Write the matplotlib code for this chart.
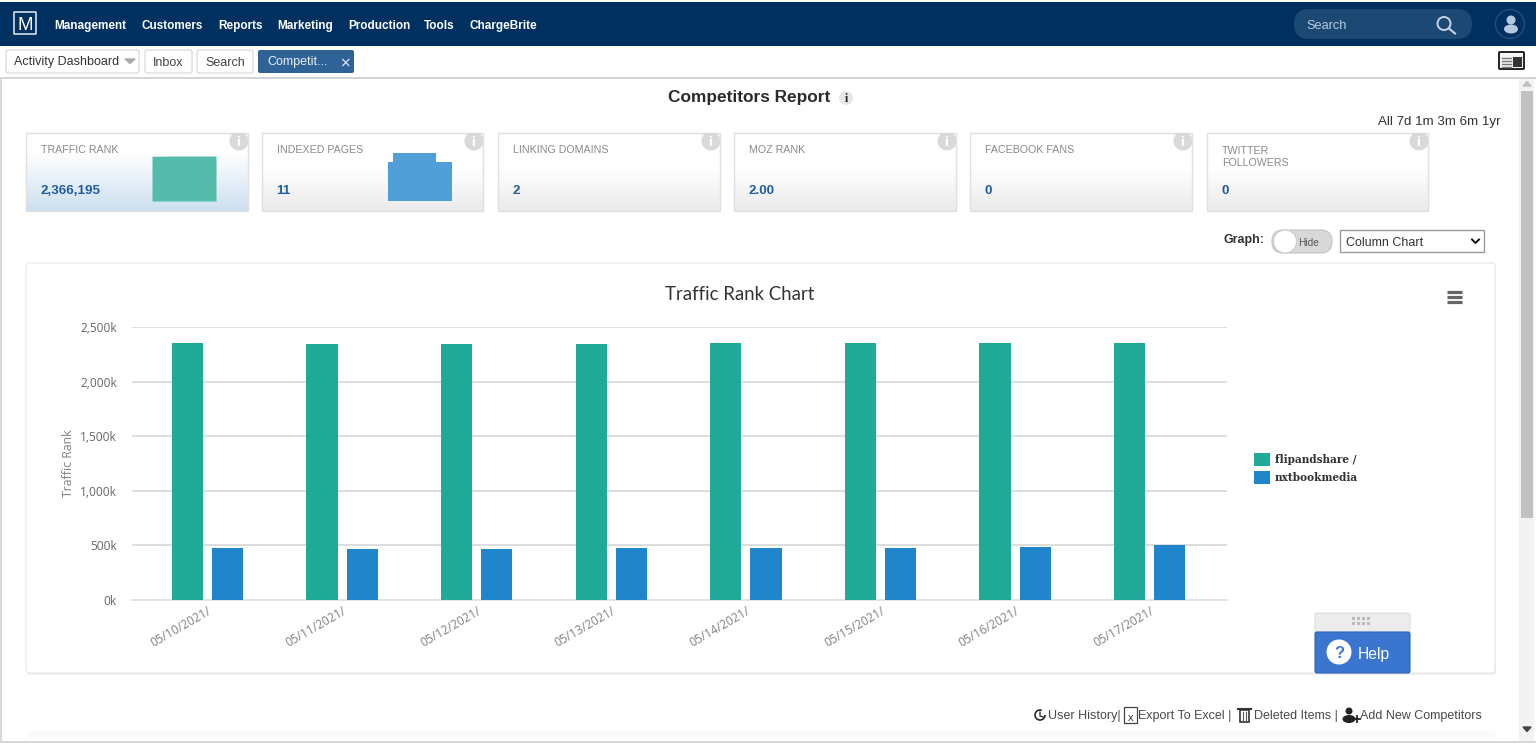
import numpy as np
import matplotlib
matplotlib.use('Agg')
import matplotlib.pyplot as plt
from matplotlib.patches import Rectangle, FancyBboxPatch, Circle, Ellipse, Wedge
from matplotlib.transforms import ScaledTranslation

W, H = 1536, 755

# ── data ─────────────────────────────────────────────────────────────────────
dates = ['05/10/2021/', '05/11/2021/', '05/12/2021/', '05/13/2021/',
         '05/14/2021/', '05/15/2021/', '05/16/2021/', '05/17/2021/']
flipandshare = [2355, 2345, 2345, 2345, 2355, 2355, 2355, 2355]
nxtbookmedia = [476, 467, 467, 476, 476, 476, 485, 500]
y_ticks = [0, 500, 1000, 1500, 2000, 2500]
y_labels = ['0k', '500k', '1,000k', '1,500k', '2,000k', '2,500k']
series_names = ['flipandshare /', 'nxtbookmedia']

card_titles = ['TRAFFIC RANK', 'INDEXED PAGES', 'LINKING DOMAINS', 'MOZ RANK',
               'FACEBOOK FANS', 'TWITTER\nFOLLOWERS']
card_values = ['2,366,195', '11', '2', '2.00', '0', '0']
spark_traffic = [2345, 2345, 2355, 2355, 2355, 2355, 2355]
spark_indexed = [9, 11, 11, 11, 11, 9, 9]
nav_items = ['Management', 'Customers', 'Reports', 'Marketing', 'Production',
             'Tools', 'ChargeBrite']

GREEN = '#20ab98'
BLUE = '#2185cb'
UI_FONT = 'Liberation Sans'

plt.rcParams['font.family'] = UI_FONT
fig = plt.figure(figsize=(W / 100, H / 100), dpi=100, facecolor='white')


def px_axes(x0, y0, x1, y1, **kw):
    # axes placed by screenshot pixels (y from the top)
    return fig.add_axes([x0 / W, 1 - y1 / H, (x1 - x0) / W, (y1 - y0) / H], **kw)


# ── page chrome ──────────────────────────────────────────────────────────────
ui = px_axes(0, 0, W, H)
ui.set_xlim(0, W)
ui.set_ylim(H, 0)
ui.axis('off')


def rect(x0, y0, x1, y1, fc, ec='none', lw=0, z=1):
    ui.add_patch(Rectangle((x0, y0), x1 - x0, y1 - y0, fc=fc, ec=ec, lw=lw, zorder=z))


def rbox(x0, y0, x1, y1, fc, ec='none', lw=1, r=3, z=2):
    p = FancyBboxPatch((x0 + r, y0 + r), x1 - x0 - 2 * r, y1 - y0 - 2 * r,
                       boxstyle=f'round,pad={r},rounding_size={r}',
                       fc=fc, ec=ec, lw=lw, zorder=z)
    ui.add_patch(p)
    return p


def txt(x, y, s, size=9, color='#333333', weight='normal', ha='left', va='center_baseline', z=6, **kw):
    return ui.text(x, y, s, fontsize=size, color=color, fontweight=weight,
                   ha=ha, va=va, zorder=z, **kw)


# navbar
rect(0, 2, W, 46, '#00305f')
rbox(14, 12, 36, 34, 'none', ec='#d5dde8', lw=1.2, r=0.5, z=3)
txt(25, 23.5, 'M', size=13.5, color='white', ha='center')
nav_x = [54, 142, 218, 277, 348, 424, 469]
for x, s in zip(nav_x, nav_items):
    txt(x, 24.5, s, size=8.5, color='white', weight='bold')
rbox(1294, 9, 1472, 39, '#1c4874', r=15)
txt(1306, 24.5, 'Search', size=9.2, color='#b8cde0')
ui.add_patch(Circle((1444, 23.5), 6.5, fc='none', ec='#c5d5e5', lw=1.4, zorder=4))
ui.plot([1449, 1455], [28.5, 33.5], color='#c5d5e5', lw=1.5, zorder=4)
ui.add_patch(Circle((1510, 24), 14.5, fc='none', ec='#1f4f7f', lw=1, zorder=3))
ui.add_patch(Circle((1511, 20), 4.5, fc='#b4c8de', zorder=4))
ui.add_patch(Ellipse((1511, 29), 14, 9, fc='#b4c8de', zorder=4))

# tabs row
rbox(6, 50, 139, 73, 'white', ec='#dddddd', lw=1, r=2)
txt(14.5, 61, 'Activity Dashboard', size=9, color='#333333')
ui.fill([125, 135, 130], [59, 59, 63.5], color='#aaaaaa', zorder=4)
rbox(145, 50, 192, 73, 'white', ec='#dddddd', lw=1, r=2)
txt(168.5, 61, 'Inbox', size=9, color='#444444', ha='center')
rbox(197, 50, 253, 73, 'white', ec='#dddddd', lw=1, r=2)
txt(225, 61, 'Search', size=9, color='#444444', ha='center')
rbox(258, 50, 354, 73, '#2f6397', r=2)
txt(267, 61, 'Competit...', size=9, color='#e8eef5')
txt(345, 61.5, '\u00d7', size=10, color='#e8eef5', ha='center', family='DejaVu Sans')
rbox(1499, 52, 1524, 69, '#f4f4f4', ec='#222222', lw=1.4, r=1)
rect(1513, 57, 1522, 67, '#333333', z=4)
for yy in (58, 61, 64, 66.5):
    ui.plot([1502, 1511], [yy, yy], color='#777777', lw=1, zorder=4)

# page frame
rect(0, 77, W, 79, '#d4d4d4')
rect(0, 77, 2, 743, '#d8d8d8')
rect(0, 741, W, 743, '#d8d8d8')
rect(1519, 79, 1534, 741, '#f3f3f3')
rect(1521, 91, 1533, 518, '#c1c1c1')
ui.fill([1523, 1531, 1527], [86, 86, 81.5], color='#c0c0c0', zorder=3)
ui.fill([1523, 1531, 1527], [727, 727, 731.5], color='#444444', zorder=3)

txt(749, 96, 'Competitors Report', size=12.4, color='#2b2b2b', weight='bold', ha='center')
ui.add_patch(Circle((846, 98), 7, fc='#e6e6e6', zorder=3))
txt(846, 98, 'i', size=8.5, color='#222222', weight='bold', ha='center', family='Liberation Serif')
txt(1501, 120, 'All 7d 1m 3m 6m 1yr', size=9.6, color='#333333', ha='right')

# ── metric cards ─────────────────────────────────────────────────────────────
card_x = [(26, 248), (262, 483), (498, 720), (734, 956), (970, 1192), (1207, 1428)]
grad = np.linspace(0, 1, 80).reshape(-1, 1)
for i, (x0, x1) in enumerate(card_x):
    lo = np.array([0.80, 0.875, 0.94]) if i == 0 else np.array([0.92, 0.92, 0.92])
    start = 0.25 if i == 0 else 0.45
    t = np.clip((grad - start) / (1 - start), 0, 1)
    img = (1 - t)[..., None] * np.ones(3) + t[..., None] * lo
    ui.imshow(img, extent=(x0, x1, 211, 133), aspect='auto', zorder=2)
    frame = Rectangle((x0, 133), x1 - x0, 78, fc='none', ec='#e0e0e0', lw=1, zorder=3)
    ui.add_patch(frame)
    badge = Circle((x1 - 9, 141), 9.5, fc='#d9d9d9', zorder=3)
    ui.add_patch(badge)
    badge.set_clip_path(Rectangle((x0, 133), x1 - x0, 78, transform=ui.transData))
    txt(x1 - 9, 141, 'i', size=10, color='white', weight='bold', ha='center',
        family='Liberation Serif')
    txt(x0 + 15, 157 if i == 5 else 150, card_titles[i], size=7.7, color='#8a8a8a',
        linespacing=1.3, va='center')
    txt(x0 + 14.5, 189.5, card_values[i], size=9.6, color='#1f5c9e', weight='bold')
ui.set_xlim(0, W)
ui.set_ylim(H, 0)

# sparklines in the first two cards
sp = px_axes(152, 156, 216, 201, zorder=3)
sp.fill_between(range(len(spark_traffic)), spark_traffic, color='#55bbaa', lw=0)
sp.set_xlim(0, len(spark_traffic) - 1)
sp.set_ylim(0, max(spark_traffic))
sp.axis('off')

sp2 = px_axes(388, 153, 452, 201, zorder=3)
sp2.fill_between(range(len(spark_indexed)), spark_indexed, step='mid', color='#519fd9', lw=0)
sp2.set_xlim(0, len(spark_indexed) - 1)
sp2.set_ylim(0, max(spark_indexed))
sp2.axis('off')

# graph controls
txt(1224, 238.5, 'Graph:', size=9, color='#333333', weight='bold')
rbox(1272, 230, 1332, 253, '#d8d8d8', ec='#c4c4c4', lw=0.8, r=11)
ui.add_patch(Circle((1285, 241.5), 11.5, fc='white', ec='#c8ccd4', lw=0.8, zorder=3))
txt(1309, 241.5, 'Hide', size=7.3, color='#555555', ha='center')
rect(1340, 230, 1484, 252, 'white', ec='#9a9a9a', lw=1, z=2)
txt(1346, 241.5, 'Column Chart', size=9, color='#333333')
ui.plot([1472, 1475.5, 1479], [239.5, 243, 239.5], color='#111111', lw=1.4, zorder=4)

# chart panel
rbox(27, 265, 1496, 675, '#f0f0f0', r=3, z=1)
rbox(26, 263, 1495, 673, 'white', ec='#e8e8e8', lw=0.8, r=3, z=2)
ui.text(740, 294.5, 'Traffic Rank Chart', fontsize=13.4, color='#333333', ha='center',
        va='center', family='Lato', zorder=6)
for yy in (292, 297, 302):
    ui.plot([1447, 1462], [yy, yy], color='#666666', lw=2.3, solid_capstyle='butt', zorder=4)

# footer links
link_color = '#4a4a4a'
txt(1048, 715, 'User History|', size=9, color=link_color)
txt(1138, 715, 'Export To Excel |', size=9, color=link_color)
txt(1254, 715, 'Deleted Items |', size=9, color=link_color)
txt(1360, 715, 'Add New Competitors', size=9, color=link_color)
ui.add_patch(Wedge((1040, 715), 5.8, 0, 290, width=1.6, fc='#222222', zorder=4))
ui.plot([1040, 1040, 1043], [712, 716, 717], color='#222222', lw=0.9, zorder=4)
rect(1124, 707, 1137, 723, 'white', ec='#444444', lw=0.9, z=4)
txt(1130.5, 717, 'x', size=8, color='#333333', ha='center')
rect(1240, 710, 1249, 722, 'white', ec='#333333', lw=1.2, z=4)
ui.plot([1238, 1251], [709, 709], color='#333333', lw=1.5, zorder=4)
for xx in (1243, 1246):
    ui.plot([xx, xx], [712, 720], color='#555555', lw=0.8, zorder=5)
ui.add_patch(Circle((1349, 711), 3.5, fc='#222222', zorder=4))
ui.add_patch(Ellipse((1349, 719), 13, 8, fc='#222222', zorder=4))
ui.plot([1354, 1360], [719, 719], color='#222222', lw=1.3, zorder=4)
ui.plot([1357, 1357], [716, 722], color='#222222', lw=1.3, zorder=4)
rect(28, 731, 1495, 738, '#fafafa')

# help widget
rbox(1315, 613, 1410, 633, '#ececec', ec='#dddddd', lw=0.8, r=2, z=7)
for xx in (1352, 1357, 1362, 1367):
    for yy in (617, 622):
        rect(xx, yy, xx + 3, yy + 3, '#bbbbbb', z=8)
rbox(1315, 632, 1410, 673, '#3a75d0', ec='#2a62b0', lw=0.8, r=2, z=7)
ui.add_patch(Circle((1339, 652), 12.5, fc='white', zorder=8))
txt(1339, 652.5, '?', size=12, color='#3a75d0', weight='bold', ha='center', z=9)
txt(1358, 652.5, 'Help', size=11.3, color='white', z=9)

# ── the chart itself ─────────────────────────────────────────────────────────
# plot area in pixels: x 132..1227, baseline y=600, 2,500k at y=327
ax = px_axes(132, 327, 1227, 600, zorder=2)
ax.patch.set_alpha(0)
x = np.arange(len(dates))
w = 0.232
off = 0.149
ax.bar(x - off, flipandshare, w, color=GREEN, linewidth=0,
       label=series_names[0], zorder=3)
ax.bar(x + off, nxtbookmedia, w, color=BLUE, linewidth=0,
       label=series_names[1], zorder=3)
ax.set_xlim(-0.561, 7.574)
ax.set_ylim(0, 2500)
ax.set_yticks(y_ticks)
ax.set_yticklabels(y_labels, fontsize=8.6, color='#666666', family='Open Sans')
ax.set_xticks(x)
ax.set_xticklabels(dates, rotation=30, ha='right', rotation_mode='anchor', fontsize=8.6,
                   color='#808080', family='Open Sans')
shift = ScaledTranslation(-2 / 100, 0, fig.dpi_scale_trans)
for lab in ax.get_xticklabels():
    lab.set_transform(lab.get_transform() + shift)
ax.tick_params(axis='x', length=0, pad=3)
ax.tick_params(axis='y', length=0, pad=11)
ax.grid(axis='y', color='#dedede', lw=1.4, zorder=0)
ax.set_axisbelow(True)
for name in ('top', 'left', 'right'):
    ax.spines[name].set_visible(False)
ax.spines['bottom'].set_color('#dfe4ee')
ax.spines['bottom'].set_linewidth(1.4)
ax.set_ylabel('Traffic Rank', fontsize=8.8, color='#808080', family='Open Sans')
ax.yaxis.set_label_coords(75, 463, transform=ui.transData)

leg = ax.legend(loc='upper left', bbox_to_anchor=(1252 / W, 1 - 451 / H),
                bbox_transform=fig.transFigure, frameon=False, ncol=1,
                handlelength=1.5, handleheight=1.5, handletextpad=0.45, labelspacing=0.5,
                borderpad=0.2, borderaxespad=0,
                prop={'family': 'DejaVu Serif', 'weight': 'bold', 'size': 7.6})
for t in leg.get_texts():
    t.set_color('#333333')

plt.savefig('out.png', dpi=100)
plt.close()
